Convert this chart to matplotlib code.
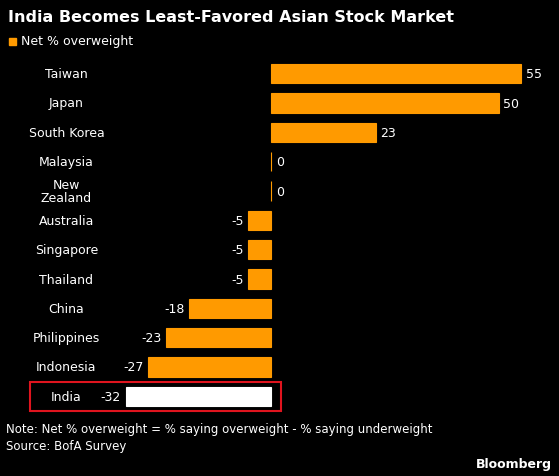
import matplotlib.pyplot as plt
from matplotlib.patches import Rectangle

categories = ["Taiwan","Japan","South Korea","Malaysia","New\nZealand","Australia","Singapore","Thailand","China","Philippines","Indonesia","India"]
values = [55,50,23,0,0,-5,-5,-5,-18,-23,-27,-32]
orange = "#FF9A00"

W,H = 559,477
fig = plt.figure(figsize=(W/100,H/100), dpi=100, facecolor="black")
ax = fig.add_axes([30/W, 1-412/H, 515/W, 352/H], facecolor="black")
n = len(categories)
ys = list(range(n))
colors = [orange]*(n-1) + ["white"]
ax.barh(ys, values, height=0.66, color=colors, edgecolor=colors, linewidth=0.8, zorder=2)
ax.set_ylim(n-0.5, -0.5)
ax.set_xlim(-53, 60.2)
ax.axis("off")
for y,c,v in zip(ys,categories,values):
    ax.text(-45, y, c, ha="center", va="center", color="white", fontsize=9, linespacing=1.0)
    if v >= 0:
        ax.text(v+1, y, str(v), ha="left", va="center", color="white", fontsize=9)
    else:
        ax.text(v-1, y, str(v), ha="right", va="center", color="white", fontsize=9)
ax.add_patch(Rectangle((-53, n-1-0.5), 55.2, 1.0, fill=False, edgecolor="#E0141E", linewidth=1.5, clip_on=False, zorder=3))

fig.text(8/W, 1-17/H, "India Becomes Least-Favored Asian Stock Market", color="white", fontsize=11.5, fontweight="bold", va="center")
fig.patches.append(Rectangle((9/W, 1-46/H), 7/W, 7/H, transform=fig.transFigure, color=orange))
fig.text(21/W, 1-42/H, "Net % overweight", color="white", fontsize=9, va="center")
fig.text(6/W, 1-430/H, "Note: Net % overweight = % saying overweight - % saying underweight", color="white", fontsize=8.5, va="center")
fig.text(6/W, 1-447/H, "Source: BofA Survey", color="white", fontsize=8.5, va="center")
fig.text(552/W, 1-465/H, "Bloomberg", color="white", fontsize=9, fontweight="bold", va="center", ha="right")
fig.savefig("out.png", dpi=100, facecolor="black")
